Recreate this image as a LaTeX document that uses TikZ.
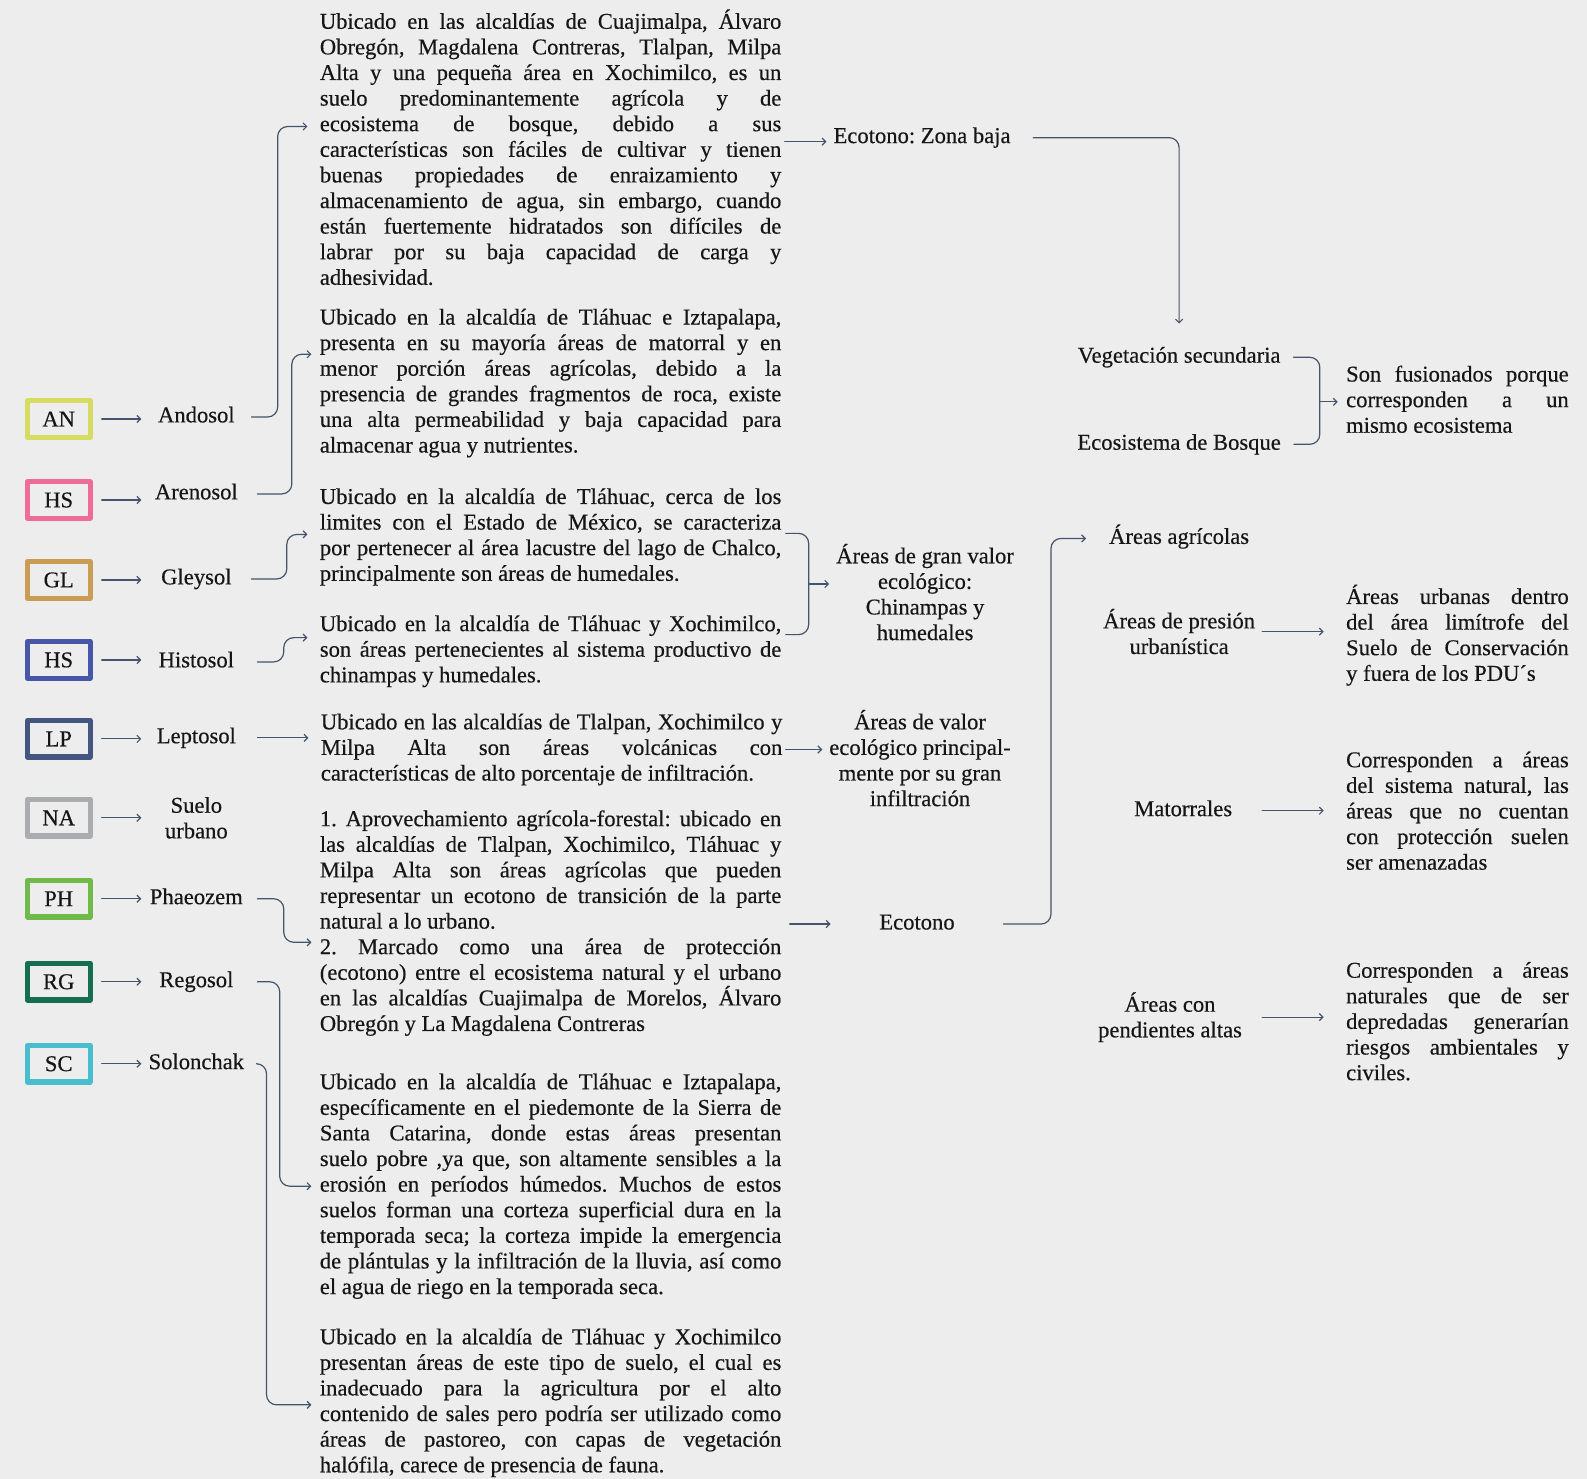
\documentclass[tikz,border=0pt]{standalone}
\usepackage{fontspec}
\setmainfont[FakeBold=0.4]{Liberation Serif}
\usetikzlibrary{arrows.meta}
\definecolor{bgcol}{RGB}{237,237,237}
\definecolor{linecol}{RGB}{68,84,106}
\definecolor{txtcol}{RGB}{22,22,22}
\definecolor{cAN}{RGB}{214,220,98}
\definecolor{cHSa}{RGB}{240,108,152}
\definecolor{cGL}{RGB}{201,157,84}
\definecolor{cHSb}{RGB}{72,86,168}
\definecolor{cLP}{RGB}{66,86,128}
\definecolor{cNA}{RGB}{170,172,175}
\definecolor{cPH}{RGB}{112,185,75}
\definecolor{cRG}{RGB}{22,110,80}
\definecolor{cSC}{RGB}{72,190,205}
\pretolerance=10000
\tolerance=10000
\hbadness=10000
\frenchspacing
\begin{document}
\begin{tikzpicture}[x=0.506pt,y=-0.506pt,line cap=round,line join=round,
  every node/.style={text=txtcol,font=\fontsize{11.3}{12.8}\selectfont},
  soilbox/.style={draw=#1,line width=2.6pt,minimum width=31.4pt,minimum height=18.2pt,inner sep=0pt},
  soilname/.style={minimum width=54.6pt,inner sep=2pt,align=center},
  oneline/.style={text height=8pt,text depth=2.6pt},
  paratxt/.style={text width=230.7pt,align=justify,inner sep=0pt},
  sidetxt/.style={text width=111.3pt,align=justify,inner sep=0pt},
  midtxt/.style={align=center},
  link/.style={draw=linecol,line width=0.6pt,rounded corners=5pt},
  linkarr/.style={link,-{Straight Barb[length=1.8pt,width=3.6pt]}}]
 \useasboundingbox (0,0) rectangle (1568,1461);
 \fill[bgcol] (0,0) rectangle (1568,1461);

 \node[soilbox=cAN] (an) at (58,414) {AN};
 \node[soilbox=cHSa] (hsa) at (58,494) {HS};
 \node[soilbox=cGL] (gl) at (58,573) {GL};
 \node[soilbox=cHSb] (hsb) at (58,652) {HS};
 \node[soilbox=cLP] (lp) at (58,730) {LP};
 \node[soilbox=cNA] (na) at (58,808) {NA};
 \node[soilbox=cPH] (ph) at (58,888) {PH};
 \node[soilbox=cRG] (rg) at (58,970) {RG};
 \node[soilbox=cSC] (sc) at (58,1051) {SC};

 \node[soilname,oneline] (andosol) at (194,412) {Andosol};
 \node[soilname,oneline] (arenosol) at (194,488) {Arenosol};
 \node[soilname,oneline] (gleysol) at (194,572) {Gleysol};
 \node[soilname,oneline] (histosol) at (194,654) {Histosol};
 \node[soilname,oneline] (leptosol) at (194,729) {Leptosol};
 \node[soilname] (urbano) at (194,808) {Suelo\\urbano};
 \node[soilname,oneline] (phaeozem) at (194,888) {Phaeozem};
 \node[soilname,oneline] (regosol) at (194,970) {Regosol};
 \node[soilname,oneline] (solonchak) at (194,1051) {Solonchak};

 \node[paratxt] (p1) at (544,145.5) {Ubicado en las alcaldías de Cuajimalpa, Álvaro\linebreak
  Obregón, Magdalena Contreras, Tlalpan, Milpa\linebreak
  Alta y una pequeña área en Xochimilco, es un\linebreak
  suelo predominantemente agrícola y de\linebreak
  ecosistema de bosque, debido a sus\linebreak
  características son fáciles de cultivar y tienen\linebreak
  buenas propiedades de enraizamiento y\linebreak
  almacenamiento de agua, sin embargo, cuando\linebreak
  están fuertemente hidratados son difíciles de\linebreak
  labrar por su baja capacidad de carga y\linebreak
  adhesividad.};
 \node[paratxt] (p2) at (544,378.5) {Ubicado en la alcaldía de Tláhuac e Iztapalapa,\linebreak
  presenta en su mayoría áreas de matorral y en\linebreak
  menor porción áreas agrícolas, debido a la\linebreak
  presencia de grandes fragmentos de roca, existe\linebreak
  una alta permeabilidad y baja capacidad para\linebreak
  almacenar agua y nutrientes.};
 \node[paratxt] (p3) at (544,530.5) {Ubicado en la alcaldía de Tláhuac, cerca de los\linebreak
  limites con el Estado de México, se caracteriza\linebreak
  por pertenecer al área lacustre del lago de Chalco,\linebreak
  principalmente son áreas de humedales.};
 \node[paratxt] (p4) at (544,643.5) {Ubicado en la alcaldía de Tláhuac y Xochimilco,\linebreak
  son áreas pertenecientes al sistema productivo de\linebreak
  chinampas y humedales.};
 \node[paratxt] (p5) at (545,740.5) {Ubicado en las alcaldías de Tlalpan, Xochimilco y\linebreak
  Milpa Alta son áreas volcánicas con\linebreak
  características de alto porcentaje de infiltración.};
 \node[paratxt] (p6) at (544,912) {1. Aprovechamiento agrícola-forestal: ubicado en\linebreak
  las alcaldías de Tlalpan, Xochimilco, Tláhuac y\linebreak
  Milpa Alta son áreas agrícolas que pueden\linebreak
  representar un ecotono de transición de la parte\linebreak
  natural a lo urbano.\hfill\break
  2. Marcado como una área de protección\linebreak
  (ecotono) entre el ecosistema natural y el urbano\linebreak
  en las alcaldías Cuajimalpa de Morelos, Álvaro\linebreak
  Obregón y La Magdalena Contreras};
 \node[paratxt] (p7) at (544,1172) {Ubicado en la alcaldía de Tláhuac e Iztapalapa,\linebreak
  específicamente en el piedemonte de la Sierra de\linebreak
  Santa Catarina, donde estas áreas presentan\linebreak
  suelo pobre ,ya que, son altamente sensibles a la\linebreak
  erosión en períodos húmedos. Muchos de estos\linebreak
  suelos forman una corteza superficial dura en la\linebreak
  temporada seca; la corteza impide la emergencia\linebreak
  de plántulas y la infiltración de la lluvia, así como\linebreak
  el agua de riego en la temporada seca.};
 \node[paratxt] (p8) at (544,1386) {Ubicado en la alcaldía de Tláhuac y Xochimilco\linebreak
  presentan áreas de este tipo de suelo, el cual es\linebreak
  inadecuado para la agricultura por el alto\linebreak
  contenido de sales pero podría ser utilizado como\linebreak
  áreas de pastoreo, con capas de vegetación\linebreak
  halófila, carece de presencia de fauna.};

 \node[oneline] (eczb) at (911,136) {Ecotono: Zona baja};
 \node[midtxt] (chin) at (914,585) {Áreas de gran valor\\ecológico:\\Chinampas y\\humedales};
 \node[midtxt] (infil) at (909,749) {Áreas de valor\\ecológico principal-\\mente por su gran\\infiltración};
 \node[oneline,minimum width=86pt] (ecot) at (906,913) {Ecotono};

 \node[oneline] (vegs) at (1165,353) {Vegetación secundaria};
 \node[oneline] (bosq) at (1165,439) {Ecosistema de Bosque};
 \node[oneline] (agri) at (1165,532) {Áreas agrícolas};
 \node[midtxt] (pres) at (1165,624) {Áreas de presión\\urbanística};
 \node[oneline] (mato) at (1169,801) {Matorrales};
 \node[midtxt] (pend) at (1156,1005) {Áreas con\\pendientes altas};

 \node[sidetxt] (fus) at (1440,394.5) {Son fusionados porque\linebreak
  corresponden a un\linebreak
  mismo ecosistema};
 \node[sidetxt] (urb) at (1440,627.5) {Áreas urbanas dentro\linebreak
  del área limítrofe del\linebreak
  Suelo de Conservación\linebreak
  y fuera de los PDU´s};
 \node[sidetxt] (amen) at (1440,801) {Corresponden a áreas\linebreak
  del sistema natural, las\linebreak
  áreas que no cuentan\linebreak
  con protección suelen\linebreak
  ser amenazadas};
 \node[sidetxt] (civ) at (1440,1009) {Corresponden a áreas\linebreak
  naturales que de ser\linebreak
  depredadas generarían\linebreak
  riesgos ambientales y\linebreak
  civiles.};

 \coordinate (chinj) at (799,577);
 \coordinate (fusj) at (1304,397);

 \draw[linkarr,shorten <=4.5pt] (an) -- (andosol.west |- an);
 \draw[linkarr,shorten <=4.5pt] (hsa) -- (arenosol.west |- hsa);
 \draw[linkarr,shorten <=4.5pt] (gl) -- (gleysol.west |- gl);
 \draw[linkarr,shorten <=4.5pt] (hsb) -- (histosol.west |- hsb);
 \draw[linkarr,shorten <=4.5pt] (lp) -- (leptosol.west |- lp);
 \draw[linkarr,shorten <=4.5pt] (na) -- (urbano.west |- na);
 \draw[linkarr,shorten <=4.5pt] (ph) -- (phaeozem.west |- ph);
 \draw[linkarr,shorten <=4.5pt] (rg) -- (regosol.west |- rg);
 \draw[linkarr,shorten <=4.5pt] (sc) -- (solonchak.west |- sc);

 \draw[linkarr,shorten >=6pt] (andosol.east) -- ++(26,0) |- (p1.west |- 0,125);
 \draw[linkarr,shorten <=3pt,shorten >=4pt] (arenosol.east) -- ++(40,0) |- (p2.west |- 0,350);
 \draw[linkarr,shorten >=6pt] (gleysol.east) -- ++(35,0) |- (p3.west |- 0,528);
 \draw[linkarr,shorten <=3pt,shorten >=6pt] (histosol.east) -- ++(32,0) |- (p4.west |- 0,630);
 \draw[linkarr,shorten <=3pt,shorten >=6pt] (leptosol.east) -- (p5.west |- leptosol.east);
 \draw[linkarr,shorten <=3pt,shorten >=4pt] (phaeozem.east) -- ++(32,0) |- (p6.west |- 0,931);
 \draw[linkarr,shorten <=3pt,shorten >=4pt] (regosol.east) -- ++(28,0) |- (p7.west |- 0,1172);
 \draw[linkarr,shorten <=3pt,shorten >=4pt] (solonchak.east) -- ++(15,0) |- (p8.west |- 0,1388);

 \draw[linkarr,shorten <=1.5pt] (p1.east |- 0,140) -- (eczb.west |- 0,140);
 \draw[link,shorten <=2pt,shorten >=2pt] (p3.east |- 0,527) -| (chinj) |- (p4.east |- 0,627);
 \draw[linkarr] (chinj) -- (chin.west |- chinj);
 \draw[linkarr,shorten <=1.5pt] (p5.east) -- (infil.west |- p5.east);
 \draw[linkarr,shorten <=4pt] (p6.east |- ecot) -- (ecot.west);

 \draw[linkarr,shorten <=7.8pt,shorten >=8pt] (eczb.east) -| (vegs.north);
 \draw[link,shorten <=3pt,shorten >=3pt] (vegs.east) -| (fusj) |- (bosq.east);
 \draw[linkarr,shorten >=4pt] (fusj) -- (fus.west |- fusj);
 \draw[linkarr,shorten >=8pt] (ecot.east) -- ++(47,0) |- (agri.west);
 \draw[linkarr,shorten >=11pt] (pres.east) -- (urb.west |- pres.east);
 \draw[linkarr,shorten >=11pt] (mato.east -| pres.east) -- (amen.west |- mato.east);
 \draw[linkarr,shorten >=11pt] (pend.east -| pres.east) -- (civ.west |- pend.east);
\end{tikzpicture}
\end{document}
